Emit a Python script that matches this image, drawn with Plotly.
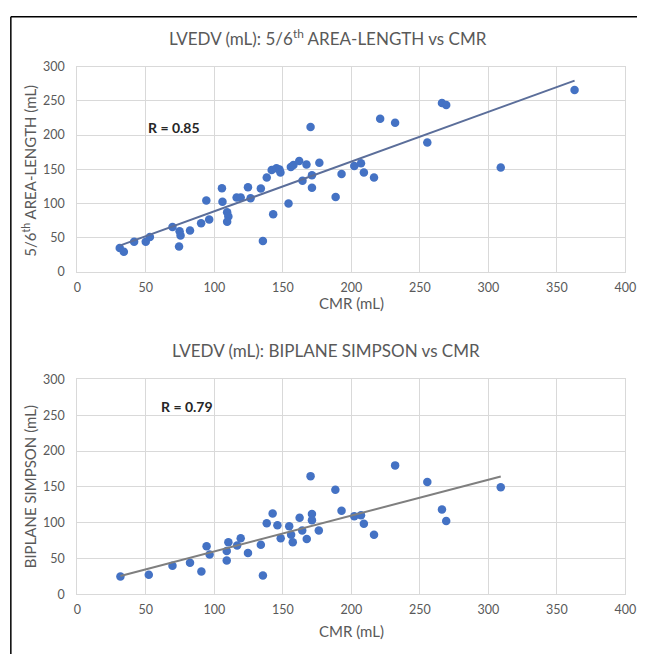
import numpy as np
import plotly.graph_objects as go

# ---- Data: top chart (5/6th area-length vs CMR) ----
al_cmr = [31, 34, 41.5, 50, 53, 69.5, 74.7, 75.4, 74.3, 82.3, 90.4, 96.3, 94.2, 105.6, 106,
          109.4, 110.3, 109.4, 116.3, 119.3, 124.6, 126.5, 134, 135.5, 138.3, 141.9, 143,
          145.4, 147.6, 148.3, 154.2, 155.9, 157.8, 162, 164.4, 167.3, 170.3, 171.3, 171.3,
          176.7, 188.6, 192.9, 202.2, 207.1, 209.2, 216.6, 221.1, 232, 255.5, 266.2, 269.3,
          309.1, 363]
al_vol = [35, 29.5, 44, 44, 51, 65.7, 59.5, 53.3, 37.1, 60.5, 71, 76.7, 104.3, 122.4, 102.4,
          87.1, 81, 73.3, 108.6, 108.6, 123.8, 107.6, 121.9, 45.2, 138.1, 149, 84.3,
          151.4, 149.5, 145.2, 100, 153.3, 156.2, 161.9, 133.3, 157.1, 211.9, 141.4, 122.9,
          159.5, 109.5, 142.9, 154.8, 158.6, 145.2, 138.1, 223.8, 218.1, 189, 246.7, 243.8,
          152.4, 265.7]

# ---- Data: bottom chart (biplane Simpson vs CMR) ----
bp_cmr = [31.5, 52.2, 69.5, 82.3, 90.6, 94.4, 96.6, 109.1, 109.1, 110.3, 116.7, 119.3, 124.6,
          134, 135.5, 138.3, 142.6, 146.1, 148.5, 154.7, 156.1, 157.3, 162.3, 164.2, 167.5,
          170.3, 171.3, 171.3, 176.3, 188.4, 192.9, 202.2, 207.1, 209.2, 216.6, 232, 255.5,
          266.2, 269.3, 309.1]
bp_vol = [25, 27.3, 40, 44.1, 31.8, 67.3, 55.5, 47.3, 60.5, 72.7, 68.2, 78.2, 57.7,
          69.1, 26.5, 99.1, 112.7, 96.4, 78.2, 95, 83.2, 72.7, 106.8, 89.1, 77.3,
          165, 112.3, 103.6, 89.1, 145.9, 116.8, 109, 110.5, 98.6, 83.2, 180, 156.8,
          118.6, 102.3, 149.5]

x_ticks = [0, 50, 100, 150, 200, 250, 300, 350, 400]
y_ticks = [0, 50, 100, 150, 200, 250, 300]

W, H = 648, 661
FONT = "Lato"
GREY_TXT = "#595959"
GRID = "#d9d9d9"
BLUE = "#4472C4"


def px_x(p):
    return p / W


def px_y(p):
    return 1 - p / H


fig = go.Figure()

# top
fig.add_trace(go.Scatter(x=al_cmr, y=al_vol, mode="markers",
                         marker=dict(color=BLUE, size=8.5), xaxis="x", yaxis="y",
                         showlegend=False))
m1, b1 = np.polyfit(al_cmr, al_vol, 1)
tx1 = [min(al_cmr), max(al_cmr)]
fig.add_trace(go.Scatter(x=tx1, y=[m1 * v + b1 for v in tx1], mode="lines",
                         line=dict(color="#5B6E9A", width=2), xaxis="x", yaxis="y",
                         showlegend=False))

# bottom
fig.add_trace(go.Scatter(x=bp_cmr, y=bp_vol, mode="markers",
                         marker=dict(color=BLUE, size=8.5), xaxis="x2", yaxis="y2",
                         showlegend=False))
m2, b2 = np.polyfit(bp_cmr, bp_vol, 1)
tx2 = [min(bp_cmr), max(bp_cmr)]
fig.add_trace(go.Scatter(x=tx2, y=[m2 * v + b2 for v in tx2], mode="lines",
                         line=dict(color="#7F7F7F", width=2), xaxis="x2", yaxis="y2",
                         showlegend=False))

xdom = [px_x(75), px_x(636)]
axis_common = dict(showgrid=True, gridcolor=GRID, gridwidth=1, zeroline=False,
                   showline=True, linecolor=GRID, linewidth=1, mirror=True,
                   tickfont=dict(family=FONT, size=12.5, color=GREY_TXT), ticks="")

fig.update_layout(
    width=W, height=H,
    margin=dict(l=0, r=0, t=0, b=0),
    paper_bgcolor="white", plot_bgcolor="white",
    xaxis=dict(domain=xdom, range=[0, 400], tickvals=x_ticks, anchor="y",
               ticklabelstandoff=4, **axis_common),
    yaxis=dict(domain=[px_y(270), px_y(60)], range=[0, 300], tickvals=y_ticks, anchor="x",
               ticklabelstandoff=9, **axis_common),
    xaxis2=dict(domain=xdom, range=[0, 400], tickvals=x_ticks, anchor="y2",
                ticklabelstandoff=4, **axis_common),
    yaxis2=dict(domain=[px_y(600), px_y(380)], range=[0, 300], tickvals=y_ticks, anchor="x2",
                ticklabelstandoff=9, **axis_common),
)

ann = []
def txt(text, x, y, size, color=GREY_TXT, angle=0, bold=False):
    ann.append(dict(text=("<b>%s</b>" % text) if bold else text, x=px_x(x), y=px_y(y),
                    xref="paper", yref="paper", showarrow=False, textangle=angle,
                    xanchor="center", yanchor="middle",
                    font=dict(family=FONT, size=size, color=color)))

txt("LVEDV (mL): 5/6<sup>th</sup> AREA-LENGTH vs CMR", 332, 30, 17)
txt("CMR (mL)", 356, 302, 15)
txt("5/6<sup>th</sup> AREA-LENGTH (mL)", 26, 166, 15, angle=-90)
txt("R = 0.85", 174, 122, 14, color="#262626", bold=True)

txt("LVEDV (mL): BIPLANE SIMPSON vs CMR", 330, 350, 17)
txt("CMR (mL)", 356, 637, 15)
txt("BIPLANE SIMPSON (mL)", 26, 490, 15, angle=-90)
txt("R = 0.79", 187, 408, 14, color="#262626", bold=True)

fig.update_layout(annotations=ann)

# frame lines (top and left edges of the figure box)
fig.add_shape(type="line", xref="paper", yref="paper", x0=px_x(7), x1=1, y0=px_y(9), y1=px_y(9),
              line=dict(color="black", width=1.5))
fig.add_shape(type="line", xref="paper", yref="paper", x0=px_x(7), x1=px_x(7), y0=px_y(9), y1=0,
              line=dict(color="black", width=1.5))

fig.write_html("out.html", config={"displayModeBar": False},
               post_script="document.body.style.margin='0';")
